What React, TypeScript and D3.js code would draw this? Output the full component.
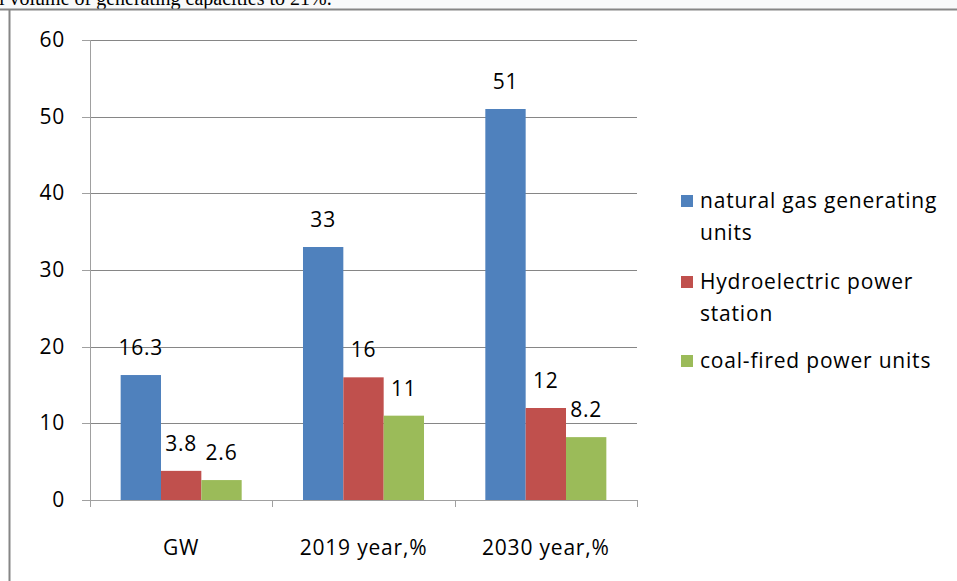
import React from "react";
import * as d3 from "d3";

const categories = ["GW", "2019 year,%", "2030 year,%"];
const seriesNames = ["natural gas generating units", "Hydroelectric power station", "coal-fired power units"];
const legendLines = [["natural gas generating", "units"], ["Hydroelectric power", "station"], ["coal-fired power units"]];
const naturalGas = [16.3, 33, 51];
const hydro = [3.8, 16, 12];
const coal = [2.6, 11, 8.2];
const yTicks = [0, 10, 20, 30, 40, 50, 60];
const colors = ["#4F81BD", "#C0504D", "#9BBB59"];

const W = 957, H = 581;
const FONT = "'Open Sans', sans-serif";
const FS = 21;
const LS = 0.8;

export default function App() {
  const series = [naturalGas, hydro, coal];
  const x0 = d3.scaleBand<string>().domain(categories).range([90, 637]).paddingInner(0).paddingOuter(0);
  const x1 = d3.scaleBand<string>().domain(seriesNames).range([0, x0.bandwidth()]).paddingInner(0).paddingOuter(0.76);
  const y = d3.scaleLinear().domain([0, 60]).range([500, 40]);
  const bounds = [...categories.map((c) => x0(c) as number), 637];

  return (
    <svg width={W} height={H} style={{ position: "absolute", left: 0, top: 0, background: "#fff" }} fontFamily={FONT}>
      <rect x={0} y={0} width={W} height={9} fill="#f8f9fa" />
      <text x={-1} y={5} fontFamily="'Liberation Serif', serif" fontSize={20} fill="#000">l volume of generating capacities to 21%.</text>
      <line x1={0} x2={W} y1={9.5} y2={9.5} stroke="#868686" strokeWidth={2} />
      <line x1={9.5} x2={9.5} y1={9} y2={H} stroke="#868686" strokeWidth={2} />
      {yTicks.map((t) => (
        <g key={t}>
          {t > 0 && <line x1={90} x2={637} y1={Math.round(y(t)) + 0.5} y2={Math.round(y(t)) + 0.5} stroke="#868686" />}
          <line x1={82} x2={90} y1={Math.round(y(t)) + 0.5} y2={Math.round(y(t)) + 0.5} stroke="#a0a0a0" />
          <text x={65} y={y(t) + 7} textAnchor="end" fontSize={FS} letterSpacing={LS} fill="#000">{t}</text>
        </g>
      ))}
      {categories.map((c, ci) =>
        series.map((s, si) => {
          const bx = (x0(c) as number) + (x1(seriesNames[si]) as number);
          const v = s[ci];
          return (
            <g key={c + si}>
              <rect x={bx} y={y(v)} width={x1.bandwidth()} height={y(0) - y(v)} fill={colors[si]} />
              <text x={bx + x1.bandwidth() / 2} y={y(v) - 20} textAnchor="middle" fontSize={FS} letterSpacing={LS} fill="#000">{v}</text>
            </g>
          );
        })
      )}
      <line x1={90.5} x2={90.5} y1={40} y2={500} stroke="#a0a0a0" />
      <line x1={90} x2={637} y1={500.5} y2={500.5} stroke="#a0a0a0" />
      {bounds.map((b, i) => (
        <line key={i} x1={Math.round(b) + 0.5} x2={Math.round(b) + 0.5} y1={500} y2={507} stroke="#a0a0a0" />
      ))}
      {categories.map((c) => (
        <text key={c} x={(x0(c) as number) + x0.bandwidth() / 2} y={555} textAnchor="middle" fontSize={FS} letterSpacing={LS} fill="#000">{c}</text>
      ))}
      {legendLines.map((lines, i) => {
        const top = [201, 282, 361][i];
        return (
          <g key={i}>
            <rect x={681} y={top - 6} width={12} height={12} fill={colors[i]} />
            {lines.map((l, j) => (
              <text key={j} x={700} y={top + 7 + j * 32} fontSize={FS} letterSpacing={LS} fill="#000">{l}</text>
            ))}
          </g>
        );
      })}
    </svg>
  );
}
